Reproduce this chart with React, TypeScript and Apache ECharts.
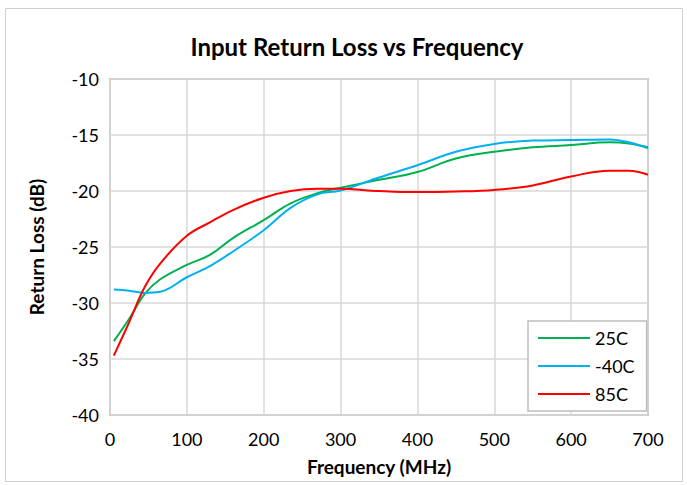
import React, { useEffect, useRef } from "react";
import * as echarts from "echarts";

const freq = [5, 25, 45, 65, 100, 130, 160, 200, 235, 270, 300, 350, 400, 450, 500, 550, 600, 650, 675, 700];
const s25C = [-33.4, -31.4, -29.2, -27.9, -26.6, -25.7, -24.2, -22.6, -21.1, -20.2, -19.7, -19.0, -18.3, -17.1, -16.5, -16.1, -15.9, -15.65, -15.75, -16.1];
const sM40C = [-28.8, -28.9, -29.1, -29.0, -27.7, -26.7, -25.4, -23.5, -21.5, -20.3, -19.95, -18.8, -17.7, -16.5, -15.8, -15.5, -15.45, -15.4, -15.65, -16.2];
const s85C = [-34.7, -31.7, -28.6, -26.5, -24.0, -22.8, -21.7, -20.6, -20.0, -19.8, -19.8, -20.0, -20.1, -20.05, -19.9, -19.5, -18.7, -18.2, -18.2, -18.55];
const seriesNames = ["25C", "-40C", "85C"];
const seriesColors = ["#00B050", "#00B0F0", "#FF0000"];
const seriesValues = [s25C, sM40C, s85C];

const FONT = "Lato";

export default function App() {
  const ref = useRef<HTMLDivElement>(null);
  useEffect(() => {
    if (!ref.current) return;
    const chart = echarts.init(ref.current, null, { renderer: "svg" });
    chart.setOption({
      animation: false,
      backgroundColor: "#ffffff",
      title: {
        text: "Input Return Loss vs Frequency",
        left: 352,
        textAlign: "center",
        top: 29,
        textStyle: { fontFamily: FONT, fontWeight: "bold", fontSize: 24, color: "#000" },
      },
      graphic: [
        {
          type: "rect",
          shape: { x: 5.5, y: 8.5, width: 677, height: 473 },
          style: { fill: "none", stroke: "#d0d0d0", lineWidth: 1 },
          silent: true,
        },
      ],
      grid: {
        left: 110,
        top: 79,
        right: 39,
        bottom: 70,
        show: true,
        borderColor: "#bfbfbf",
        borderWidth: 2,
        backgroundColor: "transparent",
      },
      legend: {
        orient: "vertical",
        left: 528,
        top: 321,
        padding: [8, 12, 8, 10],
        itemGap: 10,
        itemWidth: 52,
        itemHeight: 2,
        icon: "rect",
        borderColor: "#bfbfbf",
        borderWidth: 1.5,
        backgroundColor: "#ffffff",
        textStyle: { fontFamily: FONT, fontSize: 18, color: "#000" },
        data: seriesNames,
      },
      xAxis: {
        type: "value",
        min: 0,
        max: 700,
        interval: 100,
        name: "Frequency (MHz)",
        nameLocation: "middle",
        nameGap: 42,
        nameTextStyle: { fontFamily: FONT, fontWeight: "bold", fontSize: 19, color: "#000" },
        axisLine: { show: false },
        axisTick: { show: false },
        axisLabel: { fontFamily: FONT, fontSize: 18, color: "#000", margin: 15 },
        splitLine: { lineStyle: { color: "#d9d9d9", width: 1.5 } },
      },
      yAxis: {
        type: "value",
        min: -40,
        max: -10,
        interval: 5,
        name: "Return Loss (dB)",
        nameLocation: "middle",
        nameGap: 64,
        nameRotate: 90,
        nameTextStyle: { fontFamily: FONT, fontWeight: "bold", fontSize: 19, color: "#000" },
        axisLine: { show: false },
        axisTick: { show: false },
        axisLabel: { fontFamily: FONT, fontSize: 18, color: "#000", margin: 11 },
        splitLine: { lineStyle: { color: "#d9d9d9", width: 1.5 } },
      },
      series: seriesNames.map((name, i) => ({
        name,
        type: "line",
        smooth: 0.4,
        symbol: "none",
        data: freq.map((f, j) => [f, seriesValues[i][j]]),
        lineStyle: { color: seriesColors[i], width: 2 },
        itemStyle: { color: seriesColors[i] },
      })),
    });
    return () => chart.dispose();
  }, []);
  return <div ref={ref} style={{ position: "absolute", left: 0, top: 0, width: 687, height: 485 }} />;
}
